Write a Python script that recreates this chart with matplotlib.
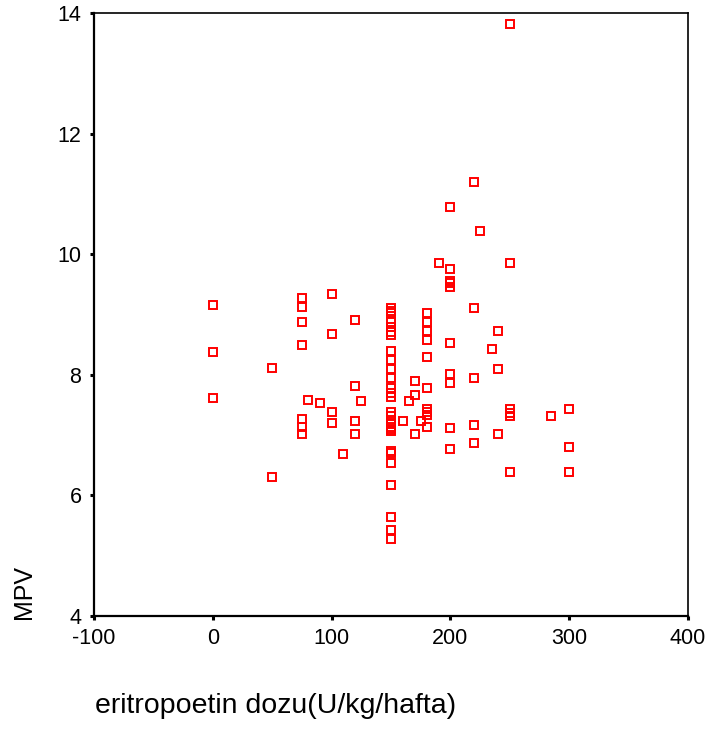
import matplotlib.pyplot as plt

plt.rcParams['font.family'] = ['Liberation Sans', 'DejaVu Sans']
plt.rcParams['axes.unicode_minus'] = False

# dose (U/kg/week) and MPV
dose = ([0] * 3 + [50] * 2 + [75] * 7 + [80, 90] + [100] * 4 + [110] + [120] * 4 + [125]
        + [150] * 28 + [160, 165] + [170] * 3 + [175] + [180] * 10 + [190] + [200] * 10
        + [220] * 5 + [225, 235] + [240] * 3 + [250] * 6 + [285] + [300] * 3)
mpv = [9.16, 8.37, 7.61,
       8.11, 6.30,
       9.27, 9.13, 8.87, 8.50, 7.26, 7.14, 7.02,
       7.59, 7.53,
       9.34, 8.67, 7.39, 7.20,
       6.69,
       8.91, 7.82, 7.23, 7.02,
       7.56,
       9.10, 9.06, 9.02, 8.88, 8.80, 8.71, 8.66, 8.40, 8.25, 8.09, 7.94, 7.78, 7.69, 7.63,
       7.39, 7.31, 7.22, 7.18, 7.14, 7.10, 7.06, 6.74, 6.71, 6.54, 6.18, 5.65, 5.43, 5.28,
       7.24, 7.57,
       7.90, 7.67, 7.01,
       7.24,
       9.02, 8.88, 8.73, 8.57, 8.30, 7.78, 7.44, 7.38, 7.33, 7.14,
       9.86,
       10.79, 9.76, 9.56, 9.52, 9.45, 8.53, 8.01, 7.87, 7.11, 6.77,
       11.19, 9.10, 7.94, 7.17, 6.87,
       10.39, 8.43,
       8.73, 8.10, 7.01,
       13.82, 9.86, 7.44, 7.36, 7.31, 6.38,
       7.31,
       7.44, 6.81, 6.38]

xticks = [-100, 0, 100, 200, 300, 400]
yticks = [4, 6, 8, 10, 12, 14]

fig = plt.figure(figsize=(7.05, 7.29), dpi=100)
ax = fig.add_axes([94 / 705, 1 - 616 / 729, 594 / 705, 603 / 729])

ax.plot(dose, mpv, 's', ms=5.2, mfc='none', mec='#ff0000', mew=1.4, ls='none')

ax.set_xlim(-100, 400)
ax.set_ylim(4, 14)
ax.set_xticks(xticks)
ax.set_yticks(yticks)
ax.tick_params(direction='out', length=3, width=2.2, labelsize=15.5, pad=6)

for side in ['left', 'bottom']:
    ax.spines[side].set_linewidth(1.6)
for side in ['top', 'right']:
    ax.spines[side].set_linewidth(1.2)

fig.text(95 / 705, 1 - 713 / 729, 'eritropoetin dozu(U/kg/hafta)',
         ha='left', va='baseline', fontsize=20.5)
fig.text(24 / 705, 1 - 619 / 729, 'MPV', rotation=90,
         ha='center', va='bottom', fontsize=18)

fig.savefig('out.png', dpi=100)
